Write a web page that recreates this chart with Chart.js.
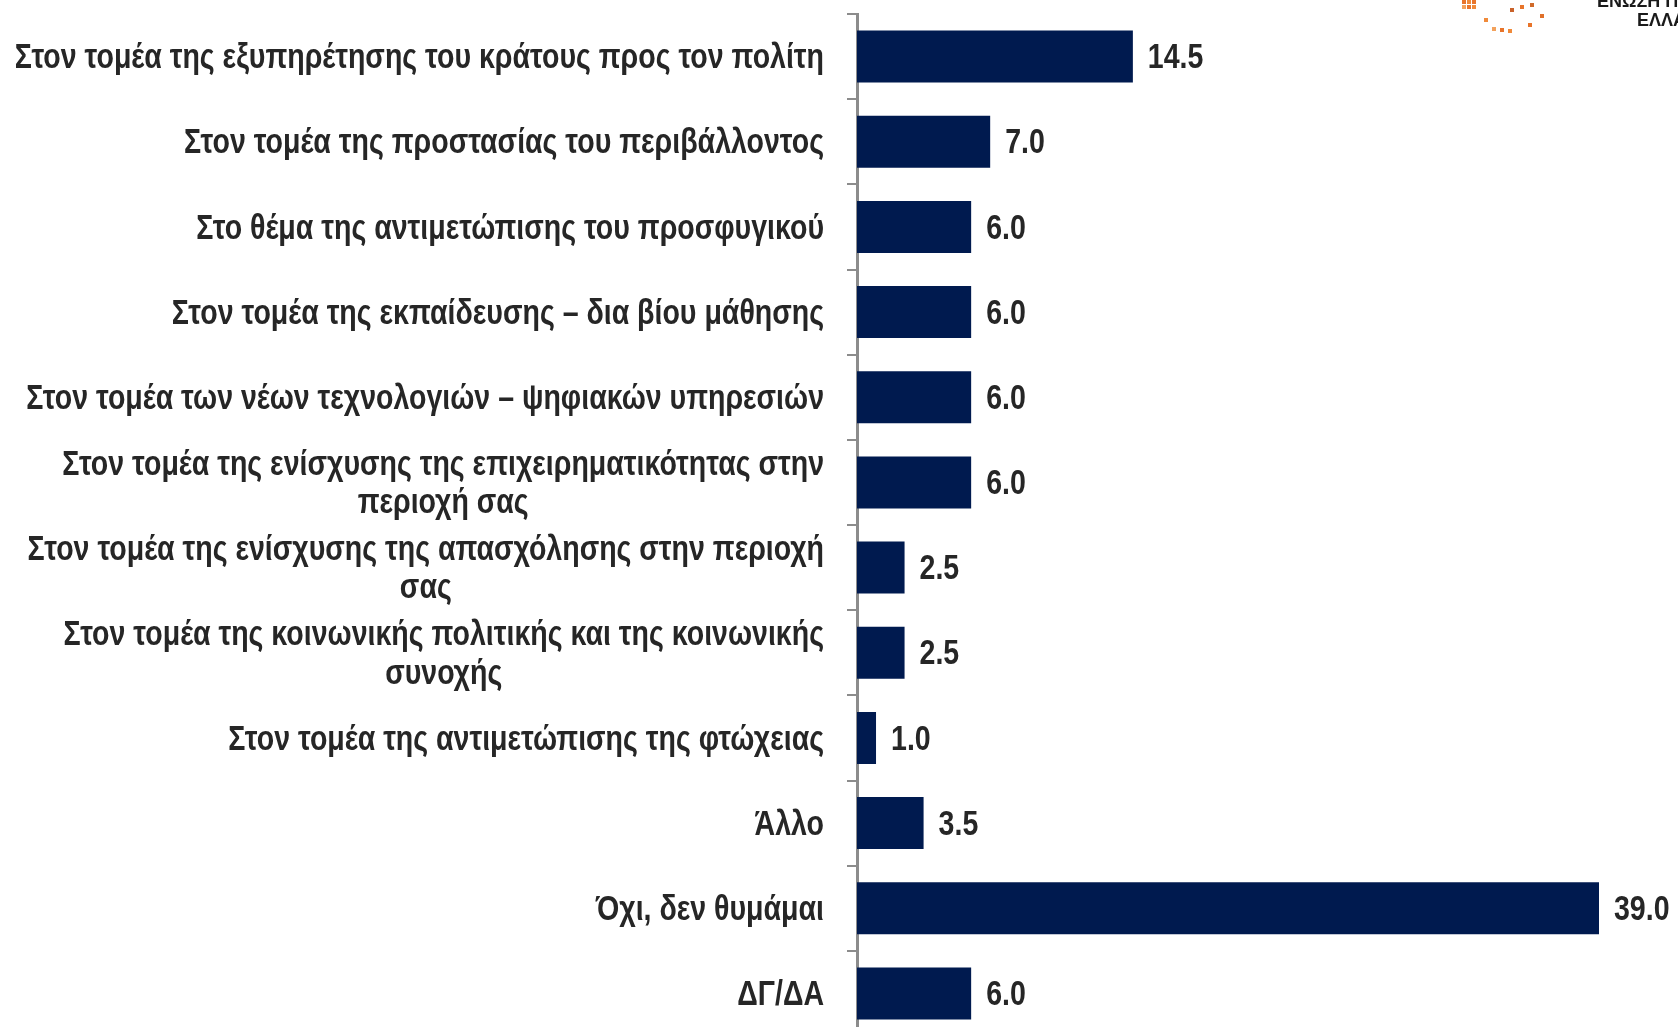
<!DOCTYPE html>
<html>
<head>
<meta charset="utf-8">
<script src="https://cdn.jsdelivr.net/npm/chart.js@4.4.1/dist/chart.umd.min.js"></script>
<style>
    html, body {
        margin: 0;
        padding: 0;
        background: #ffffff;
        overflow: hidden;
        width: 1678px;
        height: 1027px;
    }
    #wrap {
        position: relative;
        width: 1678px;
        height: 1036px;
    }
    .logo-text {
        position: absolute;
        font-family: 'Liberation Sans', Arial, sans-serif;
        font-weight: bold;
        font-size: 18px;
        color: #1a1a1a;
        white-space: nowrap;
    }
    .logo-dots {
        position: absolute;
        left: 1462px;
        top: 0px;
        width: 4px;
        height: 4px;
        background: #e8742a;
        box-shadow: 5px 0 #f08a3a, 10px 0 #e8742a, 0 5px #f3a25c, 5px 5px #e8742a, 10px 5px #f08a3a,
            48px 8px #c9622a, 58px 5px #e8742a, 68px 3px #d06a2a, 22px 18px #f08a3a,
            66px 23px #e8742a, 78px 14px #e0702a, 30px 27px #f3a25c, 38px 28px #e8742a, 46px 29px #f08a3a;
    }
</style>
</head>
<body>
<div id="wrap">
    <canvas id="interventionsChart"></canvas>
    <div class="logo-dots"></div>
    <div class="logo-text" style="left:1597px; top:-9px;">ΕΝΩΣΗ ΠΕΡΙΦΕΡΕΙΩΝ</div>
    <div class="logo-text" style="left:1637px; top:10px;">ΕΛΛΑΔΑΣ</div>
</div>
<script>
// Κατηγορίες (οι μεγάλες χωρίζονται σε δύο γραμμές)
const categories = [
    'Στον τομέα της εξυπηρέτησης του κράτους προς τον πολίτη',
    'Στον τομέα της προστασίας του περιβάλλοντος',
    'Στο θέμα της αντιμετώπισης του προσφυγικού',
    'Στον τομέα της εκπαίδευσης – δια βίου μάθησης',
    'Στον τομέα των νέων τεχνολογιών – ψηφιακών υπηρεσιών',
    ['Στον τομέα της ενίσχυσης της επιχειρηματικότητας στην', 'περιοχή σας'],
    ['Στον τομέα της ενίσχυσης της απασχόλησης στην περιοχή', 'σας'],
    ['Στον τομέα της κοινωνικής πολιτικής και της κοινωνικής', 'συνοχής'],
    'Στον τομέα της αντιμετώπισης της φτώχειας',
    'Άλλο',
    'Όχι, δεν θυμάμαι',
    'ΔΓ/ΔΑ'
];

// Ποσοστά (%)
const values = [14.5, 7.0, 6.0, 6.0, 6.0, 6.0, 2.5, 2.5, 1.0, 3.5, 39.0, 6.0];

// Δεν υπάρχει Arial Narrow, οπότε στενεύουμε οριζόντια τη Liberation Sans
const FONT = "bold 35px 'Liberation Sans', Arial, sans-serif";
const NARROW = 0.815;
const TEXT_COLOR = '#262626';
const AXIS_COLOR = '#8c8c8c';

function narrowWidth(ctx, text) {
    return ctx.measureText(text).width * NARROW;
}

function drawNarrow(ctx, text, x, y) {
    ctx.save();
    ctx.translate(x, y);
    ctx.scale(NARROW, 1);
    ctx.fillText(text, 0, 0);
    ctx.restore();
}

// Ετικέτες κατηγοριών: δεξιά στοίχιση, οι γραμμές κεντραρισμένες μεταξύ τους
const categoryLabels = {
    id: 'categoryLabels',
    afterDraw(chart) {
        const ctx = chart.ctx;
        const yScale = chart.scales.y;
        const rightEdge = chart.chartArea.left - 33;
        const lineH = 38.5;
        ctx.save();
        ctx.font = FONT;
        ctx.fillStyle = TEXT_COLOR;
        ctx.textAlign = 'center';
        ctx.textBaseline = 'middle';
        categories.forEach((label, i) => {
            const lines = Array.isArray(label) ? label : [label];
            const widest = Math.max(...lines.map(l => narrowWidth(ctx, l)));
            const y = yScale.getPixelForValue(i) + 2;
            lines.forEach((line, k) => {
                drawNarrow(ctx, line, rightEdge - widest / 2, y + (k - (lines.length - 1) / 2) * lineH);
            });
        });
        ctx.restore();
    }
};

// Τιμές στο τέλος κάθε μπάρας
const valueLabels = {
    id: 'valueLabels',
    afterDatasetsDraw(chart) {
        const ctx = chart.ctx;
        const meta = chart.getDatasetMeta(0);
        ctx.save();
        ctx.font = FONT;
        ctx.fillStyle = TEXT_COLOR;
        ctx.textAlign = 'left';
        ctx.textBaseline = 'middle';
        meta.data.forEach((bar, i) => {
            drawNarrow(ctx, values[i].toFixed(1), bar.x + 15, bar.y + 2);
        });
        ctx.restore();
    }
};

new Chart(document.getElementById('interventionsChart'), {
    type: 'bar',
    data: {
        labels: categories,
        datasets: [{
            data: values,
            backgroundColor: '#001a4f',
            borderWidth: 0,
            barPercentage: 0.61,
            categoryPercentage: 1.0
        }]
    },
    options: {
        indexAxis: 'y',
        responsive: true,
        maintainAspectRatio: false,
        animation: false,
        layout: {
            padding: { top: 14, right: 79, bottom: 0, left: 0 }
        },
        scales: {
            x: {
                display: false,
                min: 0,
                max: 39
            },
            y: {
                grid: {
                    offset: true,
                    drawOnChartArea: false,
                    drawTicks: true,
                    tickLength: 10,
                    color: AXIS_COLOR,
                    lineWidth: 2
                },
                border: {
                    color: AXIS_COLOR,
                    width: 3
                },
                ticks: {
                    display: false
                },
                afterFit: function (scale) {
                    scale.width = 857;
                }
            }
        },
        plugins: {
            legend: { display: false },
            tooltip: { enabled: false }
        }
    },
    plugins: [categoryLabels, valueLabels]
});
</script>
</body>
</html>
